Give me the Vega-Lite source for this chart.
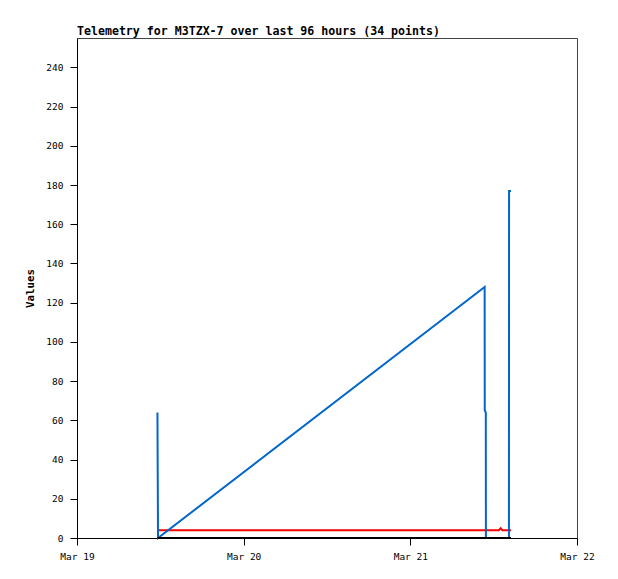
{
  "$schema": "https://vega.github.io/schema/vega-lite/v6.json",
  "width": 500,
  "height": 500,
  "autosize": {"type": "none"},
  "padding": {"left": 77, "top": 38, "right": 41, "bottom": 41},
  "background": "white",
  "title": {
    "text": "Telemetry for M3TZX-7 over last 96 hours (34 points)",
    "anchor": "start",
    "frame": "group",
    "font": "DejaVu Sans Mono",
    "fontSize": 11.6,
    "fontWeight": "bold",
    "color": "black",
    "offset": 0
  },
  "config": {
    "view": {"stroke": "#444444", "strokeWidth": 1},
    "axis": {
      "domainColor": "black",
      "tickColor": "black",
      "labelFont": "DejaVu Sans Mono",
      "labelFontSize": 9.5,
      "labelColor": "black",
      "titleFont": "DejaVu Sans Mono",
      "titleFontSize": 10.8,
      "titleFontWeight": "bold",
      "titleColor": "black",
      "grid": false
    }
  },
  "datasets": {
    "blue": [
      {"t": "2024-03-19T11:35:00", "v": 64},
      {"t": "2024-03-19T11:40:00", "v": 0},
      {"t": "2024-03-21T10:42:00", "v": 128},
      {"t": "2024-03-21T10:43:00", "v": 65},
      {"t": "2024-03-21T10:52:00", "v": 64},
      {"t": "2024-03-21T10:53:00", "v": 0},
      {"t": "2024-03-21T14:12:00", "v": 0},
      {"t": "2024-03-21T14:13:00", "v": 177},
      {"t": "2024-03-21T14:30:00", "v": 177}
    ],
    "red": [
      {"t": "2024-03-19T11:35:00", "v": 4},
      {"t": "2024-03-21T10:42:00", "v": 4},
      {"t": "2024-03-21T12:45:00", "v": 4},
      {"t": "2024-03-21T13:00:00", "v": 5},
      {"t": "2024-03-21T13:15:00", "v": 4},
      {"t": "2024-03-21T14:30:00", "v": 4}
    ],
    "black": [
      {"t": "2024-03-19T11:35:00", "v": 0},
      {"t": "2024-03-21T14:30:00", "v": 0}
    ]
  },
  "encoding": {
    "x": {
      "field": "t",
      "type": "temporal",
      "scale": {"domain": [{"year": 2024, "month": 3, "date": 19}, {"year": 2024, "month": 3, "date": 22}]},
      "axis": {
        "title": null,
        "format": "%b %d",
        "tickCount": {"interval": "day", "step": 1},
        "tickSize": 7,
        "labelPadding": 6,
        "labelFlush": false,
        "labelOverlap": false
      }
    },
    "y": {
      "field": "v",
      "type": "quantitative",
      "scale": {"domain": [0, 255], "nice": false},
      "axis": {
        "title": "Values",
        "values": [0, 20, 40, 60, 80, 100, 120, 140, 160, 180, 200, 220, 240],
        "tickSize": 7,
        "labelPadding": 7,
        "titlePadding": 10
      }
    }
  },
  "layer": [
    {"data": {"name": "red"}, "mark": {"type": "line", "color": "#ff0000", "strokeWidth": 2, "interpolate": "linear"}},
    {"data": {"name": "blue"}, "mark": {"type": "line", "color": "#0066cc", "strokeWidth": 2, "interpolate": "linear"}},
    {"data": {"name": "black"}, "mark": {"type": "line", "color": "#000000", "strokeWidth": 2}}
  ]
}
